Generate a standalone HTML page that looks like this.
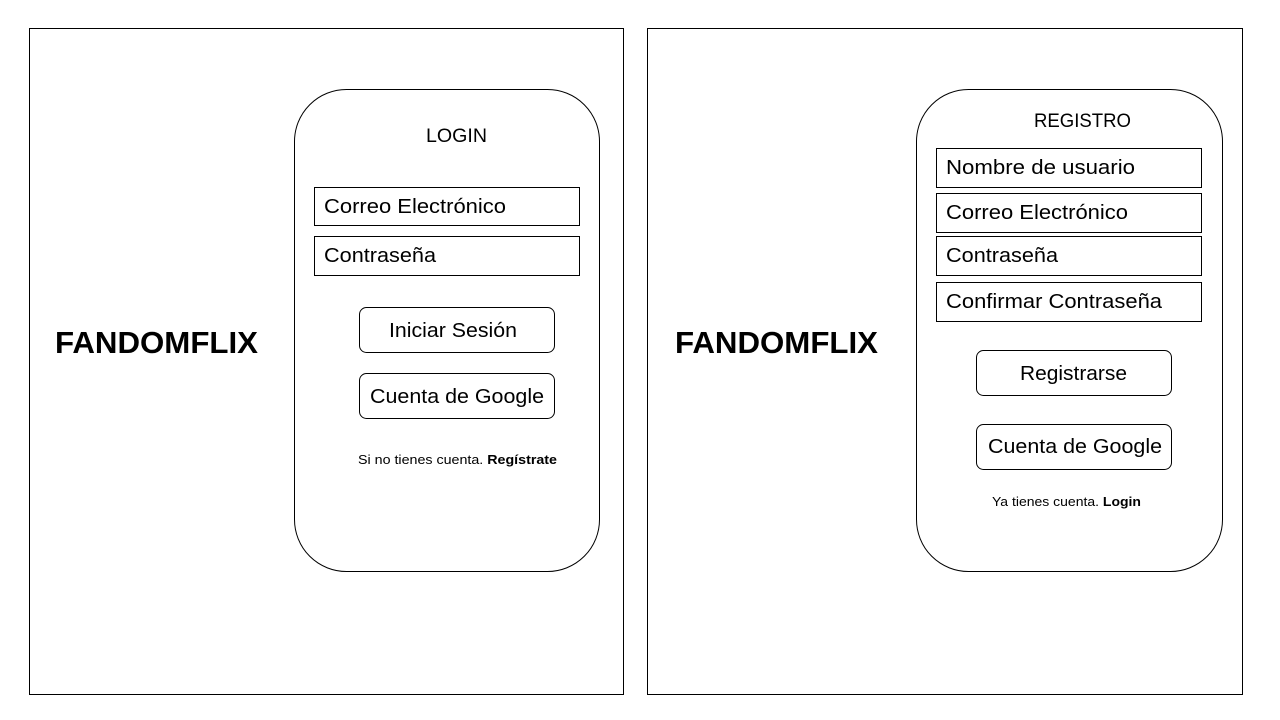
<!DOCTYPE html>
<html><head><meta charset="utf-8"><style>html,body{margin:0;padding:0;background:#fff}svg{display:block}</style></head>
<body>
<svg width="1280" height="720" xmlns="http://www.w3.org/2000/svg" font-family="'Liberation Sans', sans-serif" fill="none" stroke="#000">
<rect x="0" y="0" width="1280" height="720" fill="#fff" stroke="none"/>
<rect x="29.5" y="28.5" width="594" height="666" stroke-width="1"/>
<rect x="647.5" y="28.5" width="595" height="666" stroke-width="1"/>
<rect x="294.5" y="89.5" width="305" height="482" rx="52" ry="52"/>
<rect x="916.5" y="89.5" width="306" height="482" rx="52" ry="52"/>
<g stroke-width="1">
<rect x="314.5" y="187.5" width="265" height="38"/>
<rect x="314.5" y="236.5" width="265" height="39"/>
<rect x="359.5" y="307.5" width="195" height="45" rx="7"/>
<rect x="359.5" y="373.5" width="195" height="45" rx="7"/>
<rect x="936.5" y="148.5" width="265" height="39"/>
<rect x="936.5" y="193.5" width="265" height="39"/>
<rect x="936.5" y="236.5" width="265" height="39"/>
<rect x="936.5" y="282.5" width="265" height="39"/>
<rect x="976.5" y="350.5" width="195" height="45" rx="7"/>
<rect x="976.5" y="424.5" width="195" height="45" rx="7"/>
</g>
<g fill="#000" stroke="none">
<text x="55" y="353" font-size="31" font-weight="bold" textLength="203" lengthAdjust="spacingAndGlyphs">FANDOMFLIX</text>
<text x="675" y="353" font-size="31" font-weight="bold" textLength="203" lengthAdjust="spacingAndGlyphs">FANDOMFLIX</text>
<text x="426" y="142" font-size="19" textLength="61" lengthAdjust="spacingAndGlyphs">LOGIN</text>
<text x="324" y="213" font-size="20" textLength="182" lengthAdjust="spacingAndGlyphs">Correo Electrónico</text>
<text x="324" y="262" font-size="20" textLength="112" lengthAdjust="spacingAndGlyphs">Contraseña</text>
<text x="389" y="337" font-size="20" textLength="128" lengthAdjust="spacingAndGlyphs">Iniciar Sesión</text>
<text x="370" y="403" font-size="20" textLength="174" lengthAdjust="spacingAndGlyphs">Cuenta de Google</text>
<text x="358" y="464" font-size="13" textLength="199" lengthAdjust="spacingAndGlyphs">Si no tienes cuenta. <tspan font-weight="bold">Regístrate</tspan></text>
<text x="1034" y="127" font-size="19" textLength="97" lengthAdjust="spacingAndGlyphs">REGISTRO</text>
<text x="946" y="174" font-size="20" textLength="189" lengthAdjust="spacingAndGlyphs">Nombre de usuario</text>
<text x="946" y="219" font-size="20" textLength="182" lengthAdjust="spacingAndGlyphs">Correo Electrónico</text>
<text x="946" y="262" font-size="20" textLength="112" lengthAdjust="spacingAndGlyphs">Contraseña</text>
<text x="946" y="308" font-size="20" textLength="216" lengthAdjust="spacingAndGlyphs">Confirmar Contraseña</text>
<text x="1020" y="380" font-size="20" textLength="107" lengthAdjust="spacingAndGlyphs">Registrarse</text>
<text x="988" y="453" font-size="20" textLength="174" lengthAdjust="spacingAndGlyphs">Cuenta de Google</text>
<text x="992" y="506" font-size="13" textLength="149" lengthAdjust="spacingAndGlyphs">Ya tienes cuenta. <tspan font-weight="bold">Login</tspan></text>
</g>
</svg>
</body></html>
